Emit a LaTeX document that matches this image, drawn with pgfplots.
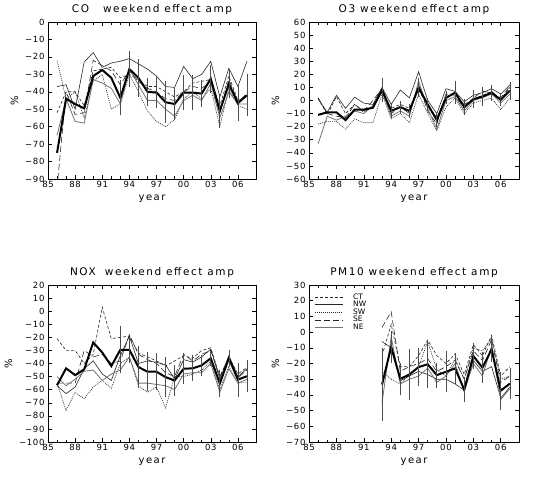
\documentclass[border=0pt]{standalone}
\usepackage{pgfplots}
\pgfplotsset{compat=1.18}
\usepackage{pgfplotstable}
\usepackage{fontspec}
\setmainfont{DejaVu Sans}
\newfontfamily\idl[LetterSpace=15]{DejaVu Sans}
\newfontfamily\idlt[LetterSpace=8]{DejaVu Sans}

\pgfplotstableread{
year mean err ct nw sw se ne
1986 -75 0 -52 -37 -22 -95 -65
1987 -44 0 -40 -36 -44 -40 -44
1988 -47 0 -40 -50 -40 -53 -57
1989 -49.5 0 -48 -23 -55 -52 -58
1990 -31 0 -28 -17.5 -34 -22 -33
1991 -27.5 0 -27 -26 -30 -25 -35
1992 -32 0 -26 -23.5 -50 -28 -38
1993 -43.5 10 -32 -22.5 -47 -36 -47
1994 -27 10.5 -30 -21 -30 -28 -27
1995 -32 11 -33 -24 -40 -34 -36
1996 -40 8 -37 -27 -51 -38 -45
1997 -40.5 9 -37 -31 -57 -40 -45
1998 -46 12 -40 -37 -60 -44 -50
1999 -47 9 -43 -37.5 -56 -45 -54
2000 -40.5 10 -40 -25.5 -44 -40 -45
2001 -40.5 10 -35 -32.5 -40 -37 -42
2002 -41 8 -34 -30 -44 -38 -45
2003 -32.5 8 -33 -22.5 -38 -34 -35
2004 -51 10 -48 -43 -60 -52 -55
2005 -35.5 8 -31 -26.5 -38 -33 -40
2006 -46.5 10 -45 -37 -48 -46 -47
2007 -42 12 -43 -22.5 -50 -41 -47
}\tabCO

\pgfplotstableread{
year mean err ct nw sw se ne
1986 -11 0 2 1 -18 2 -33
1987 -9 0 -11 -9 -16 -10 -12
1988 -9 0 3 4 -16 -12 -15
1989 -15 0 -10 -6 -22 -13 -12
1990 -7 0 -3 2.5 -14 -3 -8
1991 -7 0 -9 -2 -17 -8 -10
1992 -5.5 0 -4 -3 -17 0 -4
1993 8 9 6 10 5 9 7
1994 -8 5 -6 -3 -14 -10 -12
1995 -5 5 -3 8 -10 -5 -8
1996 -8 5 -6 2 -17 -10 -12
1997 10 7 8 22 5 12 15
1998 -3 5 -4 0 -10 -8 -6
1999 -15 5 -13 -10 -23 -18 -22
2000 2 5 3 9 -5 5 0
2001 6 9 5 7 2 4 3
2002 -5 6 -3 -1 -10 -6 -8
2003 1 7 1 4 -2 2 0
2004 3 7 4 6 0 7 2
2005 6 6 7 9 2 6 5
2006 0.5 5 1 5 -7 2 -2
2007 7.5 7 10 12 2 11 5
}\tabOT

\pgfplotstableread{
year mean err ct nw sw se ne
1986 -56.6 0 -21 -57 -55 -55 -50
1987 -43.7 0 -30 -63 -76 -55 -57
1988 -48.9 0 -30 -58 -62 -55 -52
1989 -44.5 0 -40 -44 -67 -30 -46
1990 -23.9 0 -33 -38 -58 -35 -45
1991 -31.6 0 3 -48 -53 -33 -53
1992 -42 0 -21 -53 -59 -40 -48
1993 -29.5 18 -20 -34 -40 -38 -45
1994 -29.5 10 -19 -19 -35 -18 -35
1995 -42.7 16 -32 -40 -57 -33 -55
1996 -46.3 15 -35 -38 -62 -37 -55
1997 -46.3 14 -38 -39 -58 -40 -56
1998 -50.4 15 -42 -41 -74 -47 -57
1999 -53 12 -38 -52 -50 -50 -60
2000 -44 12 -34 -37 -50 -33 -48
2001 -43.7 10 -36 -39 -48 -38 -47
2002 -41.4 8 -30 -35 -45 -33 -47
2003 -36 6 -28 -29 -38 -30 -40
2004 -55.3 10 -50 -52 -60 -50 -62
2005 -36 6 -35 -34 -42 -36 -44
2006 -52.3 13 -48 -50 -55 -51 -55
2007 -49.7 12 -43 -44 -54 -45 -52
}\tabNOX

\pgfplotstableread{
year mean err ct nw sw se ne
1993 -33.4 23 -15 -6 -25 3 -45
1994 -9.4 10 5 -10 -30 13 -3
1995 -29.8 10 -22 -31 -33 -25 -33
1996 -27 16 -22 -28 -27 -22 -30
1997 -22.3 12 -15 -25 -22 -20 -28
1998 -20.5 15 -5 -27 -6 -17 -23
1999 -27.4 8 -15 -30 -24 -25 -32
2000 -25.3 13 -20 -30 -28 -22 -28
2001 -23.1 10 -14 -33 -17 -18 -20
2002 -36.7 8 -27 -37 -30 -30 -38
2003 -15.2 8 -8 -18 -10 -12 -20
2004 -22.7 10 -15 -25 -12 -18 -28
2005 -10.9 8 -2 -22 -4 -5 -9
2006 -37.3 12 -28 -42 -30 -32 -43
2007 -32.8 10 -22 -35 -28 -28 -36
}\tabPM

\pgfplotsset{
  panel/.style={
    scale only axis, height=157pt,
    xmin=1985, xmax=2008,
    xtick={1985,1988,1991,1994,1997,2000,2003,2006},
    xticklabels={85,88,91,94,97,00,03,06},
    minor x tick num=2,
    tick align=inside, tick pos=both,
    major tick length=4pt, minor tick length=2.5pt,
    every tick/.style={black, line width=0.5pt},
    axis line style={line width=0.6pt},
    tick label style={font=\idlt\fontsize{8.5}{8.5}\selectfont},
    xticklabel style={yshift=1pt},
    xlabel={year}, ylabel={\%},
    label style={font=\idl\fontsize{10}{10}\selectfont},
    title style={font=\idl\fontsize{10.5}{11}\selectfont, yshift=-2pt},
    no markers,
  },
  ct/.style={black!85, line width=0.6pt, dash pattern=on 3pt off 2pt},
  nw/.style={black!85, line width=0.6pt},
  sw/.style={black!85, line width=0.6pt, dash pattern=on 1pt off 1pt},
  se/.style={black!85, line width=0.6pt, dash pattern=on 6pt off 3pt},
  ne/.style={black!55, line width=0.8pt},
  mn/.style={black, line width=2pt,
    error bars/y dir=both, error bars/y explicit, error bars/error mark=none,
    error bars/error bar style={line width=0.7pt, black!70, solid}},
}

\begin{document}
\begin{tikzpicture}
\useasboundingbox (0,0) rectangle (533pt,477pt);

% CO
\begin{axis}[panel, at={(48pt,298pt)}, anchor=south west, width=208pt,
  ymin=-90, ymax=0,
  ytick={-90,-80,...,0},
  yticklabels={−90,−80,−70,−60,−50,−40,−30,−20,−10,0},
  title={CO\hspace{14pt}weekend effect amp}]
\addplot[ct] table[x=year,y=ct] {\tabCO};
\addplot[nw] table[x=year,y=nw] {\tabCO};
\addplot[sw] table[x=year,y=sw] {\tabCO};
\addplot[se] table[x=year,y=se] {\tabCO};
\addplot[ne] table[x=year,y=ne] {\tabCO};
\addplot[mn] table[x=year,y=mean,y error=err] {\tabCO};
\end{axis}

% O3
\begin{axis}[panel, at={(309pt,298pt)}, anchor=south west, width=210pt,
  ymin=-60, ymax=60,
  ytick={-60,-50,...,60},
  yticklabels={−60,−50,−40,−30,−20,−10,0,10,20,30,40,50,60},
  title={O3 weekend effect amp}]
\addplot[ct] table[x=year,y=ct] {\tabOT};
\addplot[nw] table[x=year,y=nw] {\tabOT};
\addplot[sw] table[x=year,y=sw] {\tabOT};
\addplot[se] table[x=year,y=se] {\tabOT};
\addplot[ne] table[x=year,y=ne] {\tabOT};
\addplot[mn] table[x=year,y=mean,y error=err] {\tabOT};
\end{axis}

% NOX
\begin{axis}[panel, at={(48pt,35pt)}, anchor=south west, width=208pt,
  ymin=-100, ymax=20,
  ytick={-100,-90,...,20},
  yticklabels={−100,−90,−80,−70,−60,−50,−40,−30,−20,−10,0,10,20},
  title={NOX\hspace{9pt}weekend effect amp}]
\addplot[ct] table[x=year,y=ct] {\tabNOX};
\addplot[nw] table[x=year,y=nw] {\tabNOX};
\addplot[sw] table[x=year,y=sw] {\tabNOX};
\addplot[se] table[x=year,y=se] {\tabNOX};
\addplot[ne] table[x=year,y=ne] {\tabNOX};
\addplot[mn] table[x=year,y=mean,y error=err] {\tabNOX};
\end{axis}

% PM10
\begin{axis}[panel, at={(309pt,35pt)}, anchor=south west, width=210pt,
  ymin=-70, ymax=30,
  ytick={-70,-60,...,30},
  yticklabels={−70,−60,−50,−40,−30,−20,−10,0,10,20,30},
  title={PM10 weekend effect amp},
  legend style={draw=none, fill=none, at={(0.02,0.965)}, anchor=north west,
    font=\fontsize{7.5}{7.5}\selectfont, row sep=-3.5pt, inner sep=1pt},
  legend cell align=left,
  legend image code/.code={\draw[#1] (0pt,0pt) -- (28pt,0pt); \path (36pt,0pt);}]
\addplot[ct] table[x=year,y=ct] {\tabPM};
\addlegendentry{CT}
\addplot[nw] table[x=year,y=nw] {\tabPM};
\addlegendentry{NW}
\addplot[sw] table[x=year,y=sw] {\tabPM};
\addlegendentry{SW}
\addplot[se] table[x=year,y=se] {\tabPM};
\addlegendentry{SE}
\addplot[ne] table[x=year,y=ne] {\tabPM};
\addlegendentry{NE}
\addplot[forget plot, mn] table[x=year,y=mean,y error=err] {\tabPM};
\end{axis}
\end{tikzpicture}
\end{document}
